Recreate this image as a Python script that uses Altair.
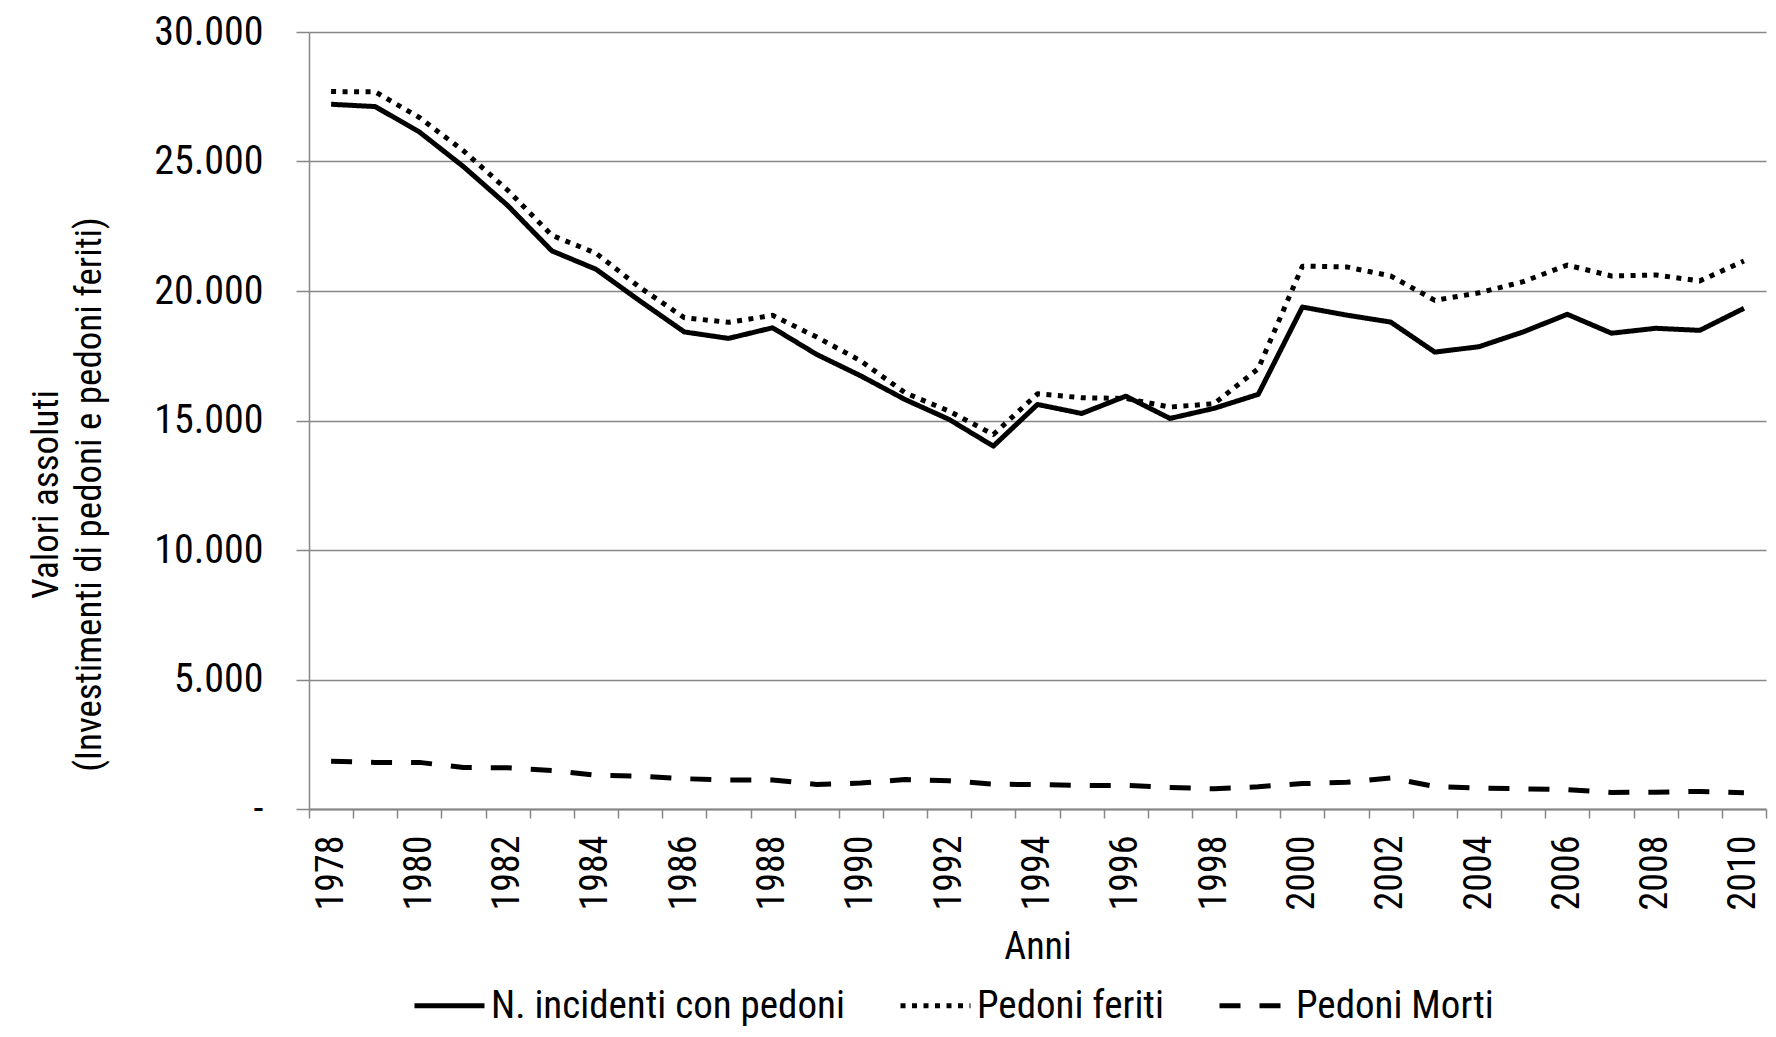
import altair as alt
import pandas as pd

years = list(range(1978, 2011))

incidenti = [27210, 27120, 26140, 24800, 23300, 21550, 20840, 19610, 18420, 18170,
             18580, 17550, 16720, 15810, 15040, 14010, 15620, 15270, 15940, 15080,
             15470, 16010, 19380, 19070, 18800, 17640, 17850, 18420, 19100, 18370,
             18560, 18480, 19330]

feriti = [27700, 27690, 26700, 25410, 23890, 22150, 21460, 20130, 18970, 18790,
          19060, 18220, 17300, 16070, 15360, 14460, 16030, 15880, 15850, 15520,
          15650, 17000, 20960, 20930, 20580, 19640, 19930, 20360, 21000, 20580,
          20620, 20390, 21160]

morti = [1840, 1800, 1800, 1600, 1590, 1490, 1300, 1270, 1170, 1120,
         1120, 950, 1000, 1140, 1090, 960, 940, 910, 910, 830,
         780, 860, 980, 1030, 1200, 870, 810, 780, 750, 640,
         650, 680, 630]

series_names = ["N. incidenti con pedoni", "Pedoni feriti", "Pedoni Morti"]
series_dash = [[1, 0], [5, 6.5], [21, 19]]
y_ticks = [0, 5000, 10000, 15000, 20000, 25000, 30000]

rows = []
for name, vals in zip(series_names, [incidenti, feriti, morti]):
    for yr, v in zip(years, vals):
        rows.append({"Anno": yr, "Serie": name, "Valore": v})
df = pd.DataFrame(rows)

FONT = "Liberation Sans Narrow, Arial Narrow, Roboto Condensed, Liberation Sans, sans-serif"
GRAY = "#878787"

W, H = 1457, 777

chart = alt.Chart(df).mark_line(
    color="black", strokeWidth=5, strokeJoin="round"
).encode(
    x=alt.X(
        "Anno:O",
        bandPosition=0.5,
        scale=alt.Scale(type="band", paddingInner=0, paddingOuter=0),
        axis=alt.Axis(
            title="Anni",
            tickBand="extent",
            labelAngle=270,
            labelAlign="right",
            labelBaseline="middle",
            labelExpr="datum.value % 2 == 0 ? datum.label : ''",
            labelOverlap=False,
            labelPadding=17,
            labelFontSize=38,
            labelFont=FONT,
            labelColor="black",
            tickSize=9,
            tickColor=GRAY,
            tickWidth=1.5,
            domainColor=GRAY,
            domainWidth=2,
            grid=False,
            titleFontSize=38,
            titleFont=FONT,
            titleFontWeight="normal",
            titleColor="black",
            titleBaseline="alphabetic",
            titleY=149,
        ),
    ),
    y=alt.Y(
        "Valore:Q",
        scale=alt.Scale(domain=[0, 30000], nice=False, zero=True),
        axis=alt.Axis(
            title=["Valori assoluti", "(Investimenti di pedoni e pedoni feriti)"],
            values=y_ticks,
            labelExpr="datum.value == 0 ? '-' : replace(format(datum.value, ','), ',', '.')",
            labelFontSize=40,
            labelFont=FONT,
            labelColor="black",
            labelPadding=33,
            tickSize=13,
            tickColor=GRAY,
            tickWidth=1.5,
            domainColor=GRAY,
            domainWidth=1.5,
            grid=True,
            gridColor=GRAY,
            gridWidth=1.5,
            titleFontSize=37,
            titleFont=FONT,
            titleFontWeight="normal",
            titleColor="black",
            titleAngle=270,
            titleAlign="center",
            titleBaseline="top",
            titleX=-281,
            titleY=462,
            titleLineHeight=43,
        ),
    ),
    strokeDash=alt.StrokeDash(
        "Serie:N",
        scale=alt.Scale(domain=series_names, range=series_dash),
        legend=alt.Legend(
            title=None,
            orient="none",
            legendX=103,
            legendY=936,
            direction="horizontal",
            symbolType="stroke",
            symbolSize=4900,
            symbolStrokeWidth=5,
            symbolStrokeColor="black",
            labelFontSize=39,
            labelFont=FONT,
            labelColor="black",
            labelOffset=4,
            labelLimit=800,
            columnPadding=45,
        ),
    ),
).properties(
    width=W,
    height=H,
    autosize=alt.AutoSizeParams(type="none"),
    padding={"left": 301, "top": 24, "right": 2, "bottom": 220},
).configure_view(
    stroke=None
)

chart.save("out.html", embed_options={"renderer": "svg", "actions": False})
